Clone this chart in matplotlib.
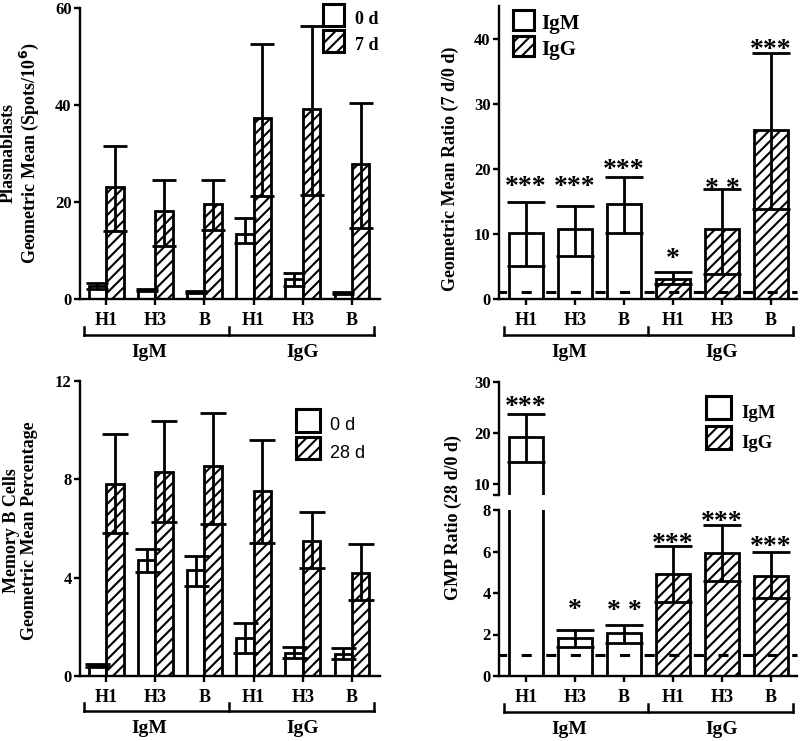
import numpy as np
import matplotlib
matplotlib.use('Agg')
import matplotlib.pyplot as plt
from matplotlib.patches import Rectangle

plt.rcParams['font.family'] = ['Liberation Serif', 'DejaVu Serif']
plt.rcParams['font.weight'] = 'bold'
plt.rcParams['hatch.linewidth'] = 1.5
plt.rcParams['hatch.color'] = 'black'

# ---------------- data ----------------
categories = ['H1', 'H3', 'B', 'H1', 'H3', 'B']
groups = ['IgM', 'IgG']

# Panel A: plasmablasts geometric mean (spots/10^6), day 0 vs day 7
pb_day0 = [2.6, 1.9, 1.5, 13.4, 4.1, 1.3]
pb_day0_lo = [2.1, 1.6, 1.3, 11.6, 2.6, 1.1]
pb_day0_hi = [3.4, 2.1, 1.7, 16.8, 5.3, 1.5]
pb_day7 = [23.0, 18.2, 19.6, 37.3, 39.2, 27.8]
pb_day7_lo = [14.0, 11.0, 14.2, 21.2, 21.4, 14.6]
pb_day7_hi = [31.5, 24.6, 24.6, 52.5, 56.2, 40.4]

# Panel B: geometric mean ratio (7 d / 0 d)
ratio7 = [10.1, 10.7, 14.6, 3.1, 10.7, 26.0]
ratio7_lo = [5.0, 6.6, 10.2, 2.3, 3.9, 13.8]
ratio7_hi = [14.9, 14.3, 18.7, 4.2, 16.9, 37.8]
ratio7_stars = ['***', '***', '***', '*', '* *', '***']
ratio7_star_y = [18.2, 18.2, 20.8, 7.2, 17.9, 39.2]

# Panel C: memory B cells geometric mean percentage, day 0 vs day 28
mb_day0 = [0.43, 4.7, 4.3, 1.56, 0.94, 0.91]
mb_day0_lo = [0.38, 4.25, 3.65, 0.95, 0.75, 0.70]
mb_day0_hi = [0.48, 5.15, 4.9, 2.16, 1.2, 1.12]
mb_day28 = [7.83, 8.31, 8.55, 7.53, 5.48, 4.21]
mb_day28_lo = [5.8, 6.25, 6.2, 5.4, 4.4, 3.1]
mb_day28_hi = [9.84, 10.38, 10.68, 9.6, 6.68, 5.36]

# Panel D: GMP ratio (28 d / 0 d)
ratio28 = [19.2, 1.84, 2.05, 4.91, 5.91, 4.81]
ratio28_lo = [14.3, 1.4, 1.6, 3.57, 4.59, 3.74]
ratio28_hi = [23.7, 2.24, 2.45, 6.26, 7.28, 5.97]
ratio28_stars = ['***', '*', '* *', '***', '***', '***']
ratio28_star_y = [26.4, 3.5, 3.47, 6.7, 7.76, 6.55]

# ---------------- layout helpers ----------------
W, H = 800, 741
fig = plt.figure(figsize=(W / 100, H / 100), dpi=100)
x = np.arange(len(categories))
LW = 2.0


def px_axes(l, t, r, b):
    return fig.add_axes([l / W, 1 - b / H, (r - l) / W, (b - t) / H])


def style(ax, ylim, yticks, xlim, xaxis=True):
    ax.set_xlim(*xlim)
    ax.set_ylim(*ylim)
    ax.set_yticks(yticks)
    ax.spines['top'].set_visible(False)
    ax.spines['right'].set_visible(False)
    for s in ax.spines.values():
        s.set_linewidth(1.7)
    ax.tick_params(axis='y', length=4, width=1.7, pad=2, labelsize=12)
    if xaxis:
        ax.set_xticks(x, categories)
        ax.tick_params(axis='x', length=4, width=1.7, pad=5.5, labelsize=13)
    else:
        ax.spines['bottom'].set_visible(False)
        ax.set_xticks([])


def brackets(ax, left=-0.45, mid=2.5, right=5.45, dy=36, tick=8, label_dy=58):
    ah = ax.get_position().height * H
    tr = ax.get_xaxis_transform()
    y0 = -dy / ah
    y1 = -(dy - tick) / ah
    ax.plot([left, right], [y0, y0], color='k', lw=1.8, transform=tr, clip_on=False,
            solid_capstyle='projecting')
    for xx in (left, mid, right):
        ax.plot([xx, xx], [y0, y1], color='k', lw=1.8, transform=tr, clip_on=False)
    for name, pos in zip(groups, (0.88, 4.0)):
        ax.text(pos, -label_dy / ah, name, transform=tr, ha='center', va='baseline',
                fontsize=14, fontweight='bold')


def err(ax, xs, v, lo, hi, cap):
    v = np.asarray(v); lo = np.asarray(lo); hi = np.asarray(hi)
    ax.errorbar(xs, v, yerr=[v - lo, hi - v], fmt='none', ecolor='black',
                elinewidth=2.0, capsize=cap, capthick=2.0, zorder=4)


def stars(ax, labels, ys, keep=lambda y: True):
    for xi, s, yi in zip(x, labels, ys):
        if keep(yi):
            ax.annotate(s, (xi, yi), xytext=(0, -5.2), textcoords='offset points',
                        ha='center', va='center', fontsize=20, fontweight='bold',
                        annotation_clip=False)


def legend_px(entries, x0, y0, bw, bh, gap, dx, fontsize, family=None, weight='bold'):
    for i, (label, hatch) in enumerate(entries):
        top = y0 + i * (bh + gap)
        r = Rectangle((x0 / W, 1 - (top + bh) / H), bw / W, bh / H,
                      transform=fig.transFigure, facecolor='white', edgecolor='black',
                      lw=2.2, hatch=hatch)
        fig.add_artist(r)
        kw = dict(fontsize=fontsize, fontweight=weight, ha='left', va='baseline')
        if family:
            kw['family'] = family
        fig.text((x0 + bw + dx) / W, 1 - (top + bh - 1.5) / H, label, **kw)


HATCH = '///'
pw = 0.355  # paired bar width
sw = 0.69   # single bar width

# ---------------- Panel A ----------------
axA = px_axes(80, 8, 380, 299)
axA.bar(x - pw / 2, pb_day0, pw, color='white', edgecolor='black', lw=LW, zorder=2)
axA.bar(x + pw / 2, pb_day7, pw, color='white', edgecolor='black', lw=LW, hatch=HATCH, zorder=2)
err(axA, x - pw / 2, pb_day0, pb_day0_lo, pb_day0_hi, 8)
err(axA, x + pw / 2, pb_day7, pb_day7_lo, pb_day7_hi, 8.5)
style(axA, (0, 60), [0, 20, 40, 60], (-0.53, 5.57))
brackets(axA)
fig.text(20.5 / W, 1 - 153 / H, 'Plasmablasts\nGeometric Mean (Spots/10$^{\\mathbf{6}}$)',
         rotation=90, ha='center', va='center', fontsize=13, fontweight='bold',
         linespacing=1.05, multialignment='center')
legend_px([('0 d', None), ('7 d', HATCH)], 322.7, 4, 21.5, 22, 4, 10.8, 13)

# ---------------- Panel B ----------------
axB = px_axes(499, 6, 797, 299)
bar_hatch = [None, None, None, HATCH, HATCH, HATCH]
for xi, v, h in zip(x, ratio7, bar_hatch):
    axB.bar(xi, v, sw, color='white', edgecolor='black', lw=LW, hatch=h, zorder=2)
err(axB, x, ratio7, ratio7_lo, ratio7_hi, 14)
axB.axhline(1, color='black', lw=2.2, ls=(0.8, (3.3, 4.75)), zorder=5, clip_on=False)
style(axB, (0, 45), [0, 10, 20, 30, 40], (-0.55, 5.53))
brackets(axB)
stars(axB, ratio7_stars, ratio7_star_y)
fig.text(450 / W, 1 - 169 / H, 'Geometric Mean Ratio (7 d/0 d)', rotation=90,
         ha='center', va='center', fontsize=13, fontweight='bold')
legend_px([('IgM', None), ('IgG', HATCH)], 512.7, 10, 21.3, 20, 6, 7.7, 15)

# ---------------- Panel C ----------------
axC = px_axes(80, 381, 380, 676)
axC.bar(x - pw / 2, mb_day0, pw, color='white', edgecolor='black', lw=LW, zorder=2)
axC.bar(x + pw / 2, mb_day28, pw, color='white', edgecolor='black', lw=LW, hatch=HATCH, zorder=2)
err(axC, x - pw / 2, mb_day0, mb_day0_lo, mb_day0_hi, 9)
err(axC, x + pw / 2, mb_day28, mb_day28_lo, mb_day28_hi, 9.5)
style(axC, (0, 12), [0, 4, 8, 12], (-0.53, 5.57))
brackets(axC, dy=35, label_dy=57)
fig.text(20.5 / W, 1 - 531 / H, 'Memory B Cells\nGeometric Mean Percentage',
         rotation=90, ha='center', va='center', fontsize=13, fontweight='bold',
         linespacing=1.05, multialignment='center')
legend_px([('0 d', None), ('28 d', HATCH)], 296, 409.3, 24, 22.4, 5, 10, 13,
          family=['Liberation Sans', 'DejaVu Sans'], weight='normal')

# ---------------- Panel D (broken axis) ----------------
axD = px_axes(499, 510, 797, 676)
axDu = px_axes(499, 381.7, 797, 495)
for ax in (axD, axDu):
    for xi, v, h in zip(x, ratio28, bar_hatch):
        ax.bar(xi, v, sw, color='white', edgecolor='black', lw=LW, hatch=h, zorder=2)
    err(ax, x, ratio28, ratio28_lo, ratio28_hi, 14)
axD.axhline(1, color='black', lw=2.2, ls=(0.8, (3.3, 4.75)), zorder=5, clip_on=False)
style(axD, (0, 8), [0, 2, 4, 6, 8], (-0.55, 5.53))
style(axDu, (7.9, 30), [10, 20, 30], (-0.55, 5.53), xaxis=False)
axDu.set_yticks([7.9], minor=True)
axDu.tick_params(axis='y', which='minor', length=4, width=1.7)
brackets(axD)
stars(axD, ratio28_stars, ratio28_star_y, keep=lambda y: y <= 8)
stars(axDu, ratio28_stars, ratio28_star_y, keep=lambda y: y > 8)
fig.text(453.5 / W, 1 - 518 / H, 'GMP Ratio (28 d/0 d)', rotation=90,
         ha='center', va='center', fontsize=13, fontweight='bold')
legend_px([('IgM', None), ('IgG', HATCH)], 706, 396, 24.7, 23, 7, 11, 13.5)

fig.savefig('out.png', dpi=100)
